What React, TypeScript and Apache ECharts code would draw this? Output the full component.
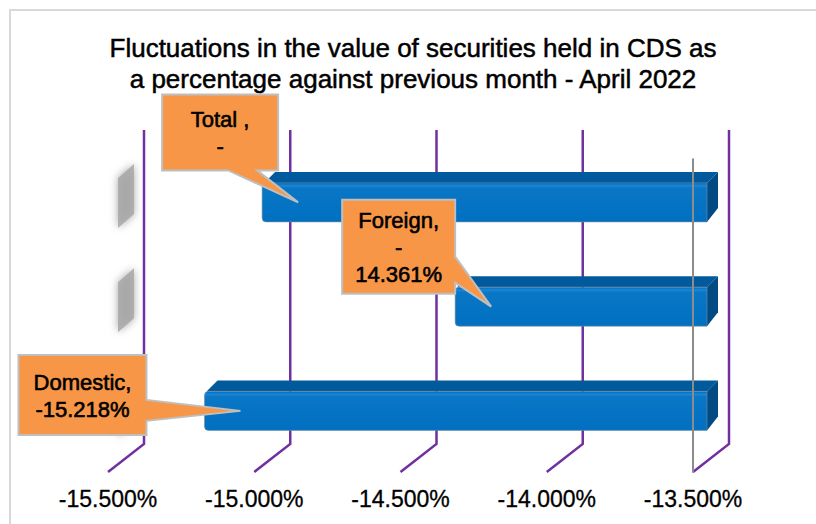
import React, { useEffect, useRef } from "react";
import * as echarts from "echarts";

// ---- data ----
const CATEGORIES = ["Total", "Foreign", "Domestic"];
const VALUES = [-15.021, -14.361, -15.218];
const LABELS = ["Total ,\n-", "Foreign,\n-\n14.361%", "Domestic,\n-15.218%"];
const AXIS_MIN = -15.5;
const AXIS_MAX = -13.5;
const AXIS_STEP = 0.5;
const TICKS = [-15.5, -15.0, -14.5, -14.0, -13.5];
const TITLE = "Fluctuations in the value of securities held in CDS as\na percentage against previous month - April 2022";

// ---- layout (not data) ----
const FONT = "'Liberation Sans', Arial, Helvetica, sans-serif";
const DEPTH_X = 36;
const DEPTH_Y = 28;
const WALL_TOP = 130;
const FACE_DX = 14;
const FACE_DY = 9;
const FACE_H = 39;
const BAR_D = 11;
// callout geometry relative to the tip point: box [l, t, r, b], pointer base
const CALLOUTS = [
  { box: [-136, -108, -20, -32], ptr: [[-41, -32], [-70, -32]] },
  { box: [-149, -107, -36, -13], ptr: [[-36, -24], [-36, -50]] },
  { box: [-222, -56, -94, 24], ptr: [[-94, 10], [-94, -11]] },
];

export default function App() {
  const ref = useRef<HTMLDivElement>(null);
  useEffect(() => {
    document.body.style.margin = "0";
    const chart = echarts.init(ref.current!, null, { renderer: "svg" });

    const gridSeries = {
      type: "custom",
      coordinateSystem: "cartesian2d",
      clip: false,
      z: 1,
      data: TICKS.map((t) => [t, 0]),
      renderItem: (params: any, api: any) => {
        const cs = params.coordSys;
        const x = api.coord([api.value(0), 0])[0];
        const yb = cs.y + cs.height;
        return {
          type: "polyline",
          shape: {
            points: [
              [x, yb],
              [x + DEPTH_X, yb - DEPTH_Y],
              [x + DEPTH_X, WALL_TOP],
            ],
          },
          style: { stroke: "#7030A0", lineWidth: 2.5, fill: "none" },
        };
      },
    };

    const barSeries = {
      type: "custom",
      coordinateSystem: "cartesian2d",
      clip: false,
      z: 2,
      data: VALUES.map((v, i) => [v, i]),
      renderItem: (params: any, api: any) => {
        const cs = params.coordSys;
        const idx = api.value(1);
        const [xl, yc] = api.coord([api.value(0), idx]);
        const xr = api.coord([AXIS_MAX, idx])[0];
        const L = xl + FACE_DX;
        const R = xr + FACE_DX;
        const T = yc - FACE_DY - FACE_H / 2;
        const B = T + FACE_H;
        const sx0 = cs.x + 10;
        const sx1 = cs.x + 26;
        const st = T - 19;
        const sb = B + 6;
        return {
          type: "group",
          children: [
            {
              type: "polygon",
              shape: {
                points: [
                  [sx0, st + 14],
                  [sx1, st],
                  [sx1, sb - 14],
                  [sx0, sb],
                ],
              },
              style: {
                fill: "rgba(168,168,168,0.85)",
                shadowBlur: 9,
                shadowColor: "rgba(150,150,150,1)",
              },
            },
            {
              type: "polygon",
              shape: {
                points: [
                  [L + 2, T],
                  [L + BAR_D + 2, T - BAR_D],
                  [R + BAR_D, T - BAR_D],
                  [R, T],
                ],
              },
              style: { fill: "#005A9C" },
            },
            {
              type: "polygon",
              shape: {
                points: [
                  [R, T],
                  [R + BAR_D, T - BAR_D],
                  [R + BAR_D, B - BAR_D - 3],
                  [R, B],
                ],
              },
              style: { fill: "#004B84" },
            },
            {
              type: "rect",
              shape: { x: L, y: T, width: R - L, height: FACE_H, r: [4, 0, 0, 4] },
              style: {
                fill: new echarts.graphic.LinearGradient(0, 0, 0, 1, [
                  { offset: 0, color: "#0067B4" },
                  { offset: 0.07, color: "#1A86D6" },
                  { offset: 0.14, color: "#0A76C6" },
                  { offset: 1, color: "#0070C0" },
                ]),
                stroke: "rgba(120,140,160,0.6)",
                lineWidth: 1,
              },
            },
          ],
        };
      },
    };

    const labelSeries = {
      type: "custom",
      coordinateSystem: "cartesian2d",
      clip: false,
      z: 3,
      data: VALUES.map((v, i) => [v, i]),
      renderItem: (params: any, api: any) => {
        const idx = api.value(1);
        const [xl, yc] = api.coord([api.value(0), idx]);
        const tx = xl + FACE_DX + 36;
        const ty = yc - FACE_DY;
        const c = CALLOUTS[idx];
        const [l, t, r, b] = c.box;
        let pts: number[][];
        if (idx === 0) {
          pts = [[l, t], [r, t], [r, b], c.ptr[0], [0, 0], c.ptr[1], [l, b]];
        } else {
          pts = [[l, t], [r, t], c.ptr[1], [0, 0], c.ptr[0], [r, b], [l, b]];
        }
        return {
          type: "group",
          children: [
            {
              type: "polygon",
              shape: { points: pts.map(([px, py]) => [tx + px, ty + py]) },
              style: { fill: "#F79646", stroke: "#BFBFBF", lineWidth: 2 },
            },
            {
              type: "text",
              style: {
                text: LABELS[idx],
                x: tx + (l + r) / 2,
                y: ty + (t + b) / 2 + 1,
                textAlign: "center",
                textVerticalAlign: "middle",
                fontSize: 22,
                lineHeight: 27,
                fontFamily: FONT,
                fill: "#000",
                stroke: "#000",
                lineWidth: 0.6,
              },
            },
          ],
        };
      },
    };

    chart.setOption({
      animation: false,
      title: {
        text: TITLE,
        left: 413,
        top: 32,
        padding: 0,
        textAlign: "center",
        textStyle: {
          fontSize: 26,
          lineHeight: 31,
          fontWeight: "normal",
          fontFamily: FONT,
          color: "#000",
          textBorderColor: "#000",
          textBorderWidth: 0.5,
        },
      },
      grid: { left: 108, right: 123, top: 159.25, bottom: 52, containLabel: false },
      xAxis: {
        type: "value",
        min: AXIS_MIN,
        max: AXIS_MAX,
        interval: AXIS_STEP,
        axisLine: { show: false },
        axisTick: { show: false },
        splitLine: { show: false },
        axisLabel: {
          margin: 15,
          fontSize: 23,
          fontFamily: FONT,
          color: "#000",
          textBorderColor: "#000",
          textBorderWidth: 0.3,
          formatter: (v: number) => v.toFixed(3) + "%",
        },
      },
      yAxis: {
        type: "category",
        data: CATEGORIES,
        inverse: true,
        position: "right",
        z: 10,
        axisLine: { show: true, lineStyle: { color: "#8C8C8C", width: 2 } },
        axisTick: { show: false },
        axisLabel: { show: false },
        splitLine: { show: false },
      },
      graphic: [
        {
          type: "rect",
          shape: { x: 10, y: 10, width: 900, height: 700 },
          style: { fill: "none", stroke: "#D9D9D9", lineWidth: 2 },
          z: -1,
        },
      ],
      series: [gridSeries, barSeries, labelSeries],
    });
    return () => chart.dispose();
  }, []);
  return <div ref={ref} style={{ width: 816, height: 524 }} />;
}
